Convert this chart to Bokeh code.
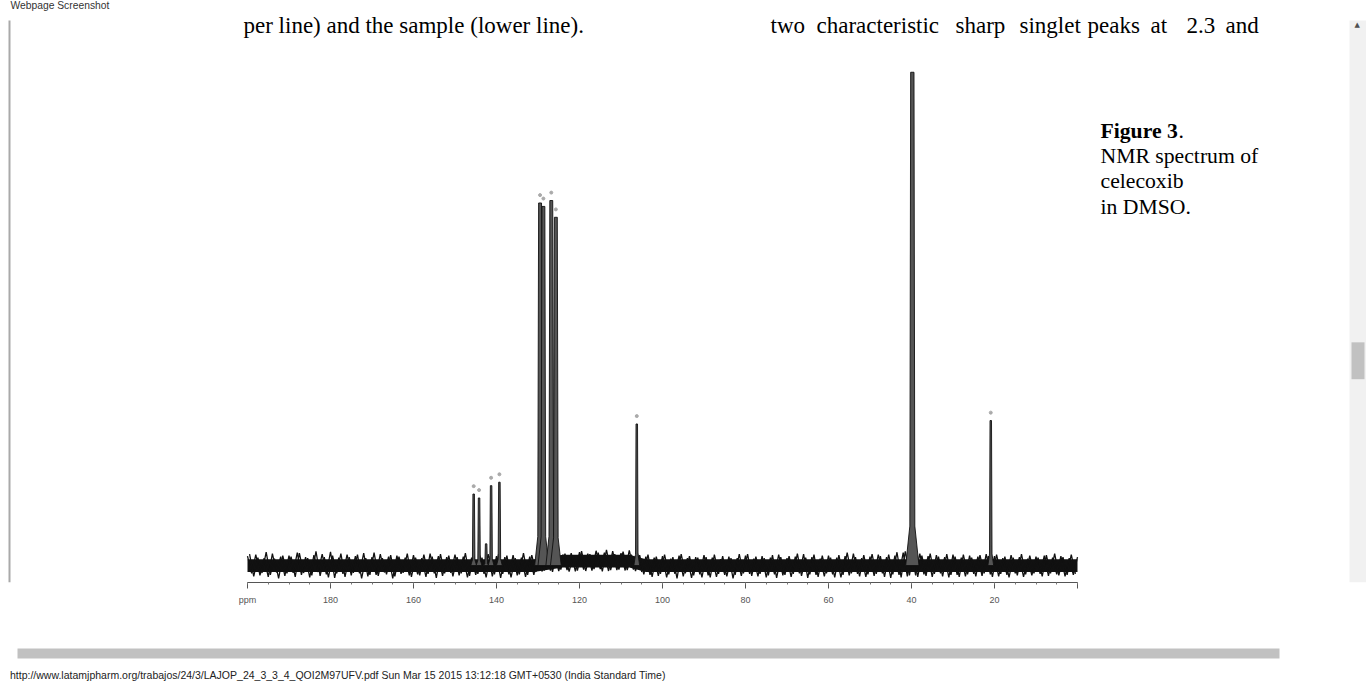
from bokeh.plotting import figure
from bokeh.models import Range1d, FixedTicker, Label, LinearAxis
from bokeh.embed import file_html
from bokeh.resources import INLINE

# ---------------- data ----------------
ppm_ticks = [0, 20, 40, 60, 80, 100, 120, 140, 160, 180, 200]
ppm_minor = list(range(0, 201, 5))
tick_label_overrides = {200: "ppm", 0: ""}

peak_ppm = [145.5, 144.2, 142.5, 141.3, 139.3, 129.5, 128.7, 126.8, 125.7, 106.2, 39.8, 20.9]
peak_int = [14.5, 13.7, 4.4, 16.2, 16.9, 73.5, 72.8, 74.0, 70.6, 28.7, 100.0, 29.4]
peak_picked = [True, True, False, True, True, True, True, True, True, True, False, True]
peak_class = ["s", "s", "s", "s", "s", "t", "t", "t", "t", "s", "v", "s"]

# baseline noise read at whole ppm values (200 ... 0)
noise_ppm = list(range(200, -1, -1))
noise_int = [
    1.9, -1.6, 2.2, -2.0, 1.5, -2.3, 2.4, -1.4, 1.8, -2.1,
    2.0, -1.5, 2.6, -1.9, 1.7, -2.4, 2.1, -1.3, 2.3, -1.8,
    2.8, -2.5, 1.6, -1.7, 2.2, -2.0, 1.9, -1.6, 2.5, -2.2,
    1.7, -1.9, 2.3, -1.4, 1.8, -2.6, 2.0, -1.7, 1.6, -2.0,
    2.1, -1.8, 1.5, -2.3, 2.4, -1.6, 1.9, -2.1, 1.7, -1.5,
    2.2, -2.0, 1.8, -2.4, 1.6, -1.9, 2.0, -1.7, 2.3, -2.2,
    1.9, -2.5, 1.7, -1.8, 2.1, -2.0, 1.6, -2.3, 1.8, -1.9,
    2.4, -1.2, 2.6, -1.0, 2.3, -1.1, 2.2, -0.9, 2.5, -1.2,
    2.7, -0.8, 2.4, -1.0, 3.0, -0.7, 2.6, -1.1, 2.9, -0.9,
    2.5, -1.0, 3.1, -0.8, 2.4, -1.3, 1.8, -1.9, 1.6, -2.1,
    1.9, -2.4, 1.4, -1.7, 2.0, -2.2, 1.5, -2.5, 1.7, -1.8,
    2.1, -2.0, 1.6, -2.3, 1.3, -1.9, 1.8, -2.6, 1.5, -2.1,
    2.0, -1.7, 1.4, -2.2, 1.9, -2.4, 1.6, -1.8, 2.2, -2.0,
    1.5, -2.3, 1.8, -1.6, 2.3, -2.5, 1.7, -1.9, 1.4, -2.2,
    2.0, -1.8, 1.6, -2.4, 1.9, -2.0, 2.4, -1.7, 1.5, -2.3,
    1.8, -2.1, 2.2, -1.6, 1.7, -2.5, 2.0, -1.9, 2.6, -2.2,
    3.0, -2.0, 2.4, -1.8, 1.9, -2.3, 2.1, -1.6, 1.7, -2.4,
    2.2, -1.9, 1.6, -2.2, 2.0, -1.7, 1.8, -2.1, 2.3, -1.8,
    1.9, -2.2, 1.5, -1.9, 2.1, -1.6, 1.7, -2.3, 1.4, -2.0,
    1.8, -1.7, 2.0, -2.1, 1.6, -1.8, 1.9, -2.2, 1.5, -1.9,
    1.7,
]
# baseline noise read at half ppm values (199.5 ... 0.5)
noise2_ppm = [199.5 - i for i in range(200)]
noise2_int = [
    2.3, -2.2, 1.6, -1.5, 2.7, -1.9, 1.4, -2.6, 2.0, -1.6,
    1.8, -2.3, 2.5, -1.5, 1.5, -2.0, 2.9, -2.1, 1.7, -2.4,
    2.0, -1.6, 2.4, -2.3, 1.7, -1.5, 2.2, -2.6, 1.5, -1.9,
    2.6, -2.1, 1.5, -1.8, 2.1, -2.2, 1.8, -1.5, 2.4, -2.3,
    1.6, -2.0, 2.2, -1.7, 1.8, -2.5, 2.3, -1.6, 2.0, -2.2,
    1.7, -1.6, 2.5, -2.1, 2.0, -1.7, 1.6, -2.4, 1.9, -1.8,
    2.3, -1.7, 2.0, -2.4, 1.5, -1.8, 2.5, -1.9, 2.1, -1.3,
    2.6, -1.0, 2.2, -1.3, 2.8, -0.8, 2.4, -1.2, 2.0, -1.0,
    2.9, -1.1, 2.3, -0.7, 2.6, -1.2, 3.2, -0.9, 2.3, -0.8,
    2.8, -0.9, 2.2, -1.1, 2.1, -1.8, 2.2, -2.3, 1.8, -1.7,
    2.2, -1.8, 1.7, -2.6, 2.3, -1.6, 1.9, -2.0, 1.6, -2.4,
    1.7, -2.4, 2.2, -1.7, 1.9, -2.2, 1.5, -1.9, 2.3, -1.6,
    2.3, -2.1, 1.8, -1.7, 1.5, -2.0, 2.1, -2.5, 1.7, -1.9,
    1.9, -1.7, 2.4, -2.1, 1.6, -1.8, 2.2, -2.3, 2.0, -1.6,
    1.6, -2.4, 2.1, -1.9, 2.6, -1.6, 1.7, -2.2, 2.1, -1.8,
    2.3, -1.7, 1.9, -2.3, 2.2, -1.8, 2.7, -2.4, 2.9, -2.0,
    2.6, -2.3, 2.0, -2.1, 2.4, -1.7, 1.8, -2.2, 2.3, -1.9,
    1.8, -2.3, 2.2, -1.8, 1.6, -2.2, 2.1, -1.6, 1.9, -2.3,
    2.2, -1.7, 1.8, -2.4, 1.6, -2.0, 2.3, -1.8, 2.0, -1.6,
    1.6, -2.2, 2.1, -1.6, 2.4, -2.0, 1.7, -1.9, 2.2, -1.7,
]
base_ppm = [200, 131, 124, 108, 104, 0]
base_level = [0.0, 0.0, 0.9, 0.9, 0.0, 0.0]

footer_text = ("http://www.latamjpharm.org/trabajos/24/3/LAJOP_24_3_3_4_QOI2M97UFV.pdf "
               "Sun Mar 15 2015 13:12:18 GMT+0530 (India Standard Time)")

# ---------------- layout calibration ----------------
W, H = 1366, 683
FB = 584                    # frame bottom = spectrum axis line (page px)
X200, X0 = 247.0, 1077.0    # page x of 200 ppm and 0 ppm
PX_PER_PPM = (X0 - X200) / 200.0
Y_BASE, PX_PER_UNIT = 567.0, 4.95

ppm_range = Range1d(200 + X200 / PX_PER_PPM, -(W - X0) / PX_PER_PPM)
int_range = Range1d(-(FB - Y_BASE) / PX_PER_UNIT, Y_BASE / PX_PER_UNIT)

p = figure(width=W, height=H, output_backend="svg", toolbar_location=None,
           x_range=Range1d(0, W), y_range=Range1d(FB, 0),
           x_axis_location=None, y_axis_location=None,
           min_border_left=0, min_border_right=0, min_border_top=0,
           min_border_bottom=H - FB,
           background_fill_color="white", border_fill_color="white")
p.extra_x_ranges = {"ppm": ppm_range}
p.extra_y_ranges = {"int": int_range}
p.outline_line_color = None
p.grid.visible = False

# spectrum axis
ax = LinearAxis(x_range_name="ppm", bounds=(0, 200),
                ticker=FixedTicker(ticks=ppm_ticks, minor_ticks=ppm_minor))
ax.major_label_overrides = tick_label_overrides
ax.axis_line_color = "#555555"
ax.major_tick_line_color = "#555555"
ax.minor_tick_line_color = "#777777"
ax.major_tick_in = 0
ax.major_tick_out = 6
ax.minor_tick_in = 0
ax.minor_tick_out = 2
ax.major_label_text_font = "Liberation Sans"
ax.major_label_text_font_size = "9px"
ax.major_label_text_color = "#555555"
ax.major_label_standoff = 6
ax.axis_label = " "
ax.axis_label_text_font_size = "20px"
ax.axis_label_standoff = 21
p.add_layout(ax, "below")

# horizontal scrollbar thumb (page chrome)
sb = LinearAxis(bounds=(17, 1279), ticker=FixedTicker(ticks=[]))
sb.axis_line_color = "#c1c1c1"
sb.axis_line_width = 10
sb.major_tick_out = 0
sb.minor_tick_out = 0
sb.major_label_standoff = 0
sb.major_label_text_font_size = "0px"
p.add_layout(sb, "below")

# browser footer line (centred label, padded with no-break spaces so it starts at x=10)
ft = LinearAxis(ticker=FixedTicker(ticks=[]))
ft.axis_line_color = None
ft.major_tick_out = 0
ft.minor_tick_out = 0
ft.major_label_standoff = 0
ft.major_label_text_font_size = "0px"
ft.axis_label = footer_text + "\u00a0" * 237
ft.axis_label_text_font = "Liberation Sans"
ft.axis_label_text_font_size = "10.5px"
ft.axis_label_text_font_style = "normal"
ft.axis_label_text_color = "#222222"
ft.axis_label_standoff = 15
p.add_layout(ft, "below")

# baseline noise: solid core + two interleaved zig-zag noise traces
core_lo = [v - 1.3 for v in base_level]
core_hi = [v + 1.3 for v in base_level]
p.varea(x=base_ppm, y1=core_lo, y2=core_hi, fill_color="#111111",
        x_range_name="ppm", y_range_name="int")
p.line(noise_ppm, noise_int, line_color="#111111", line_width=1.3,
       x_range_name="ppm", y_range_name="int")
p.line(noise2_ppm, noise2_int, line_color="#111111", line_width=1.3,
       x_range_name="ppm", y_range_name="int")

# peaks as narrow patches
widths = {"s": (0.18, 0.3, 0.7), "t": (0.35, 0.55, 1.3), "v": (0.4, 0.6, 1.6)}
xs, ys = [], []
for x0, h, c in zip(peak_ppm, peak_int, peak_class):
    wt, wm, wb = widths[c]
    xs.append([x0 - wb, x0 - wm, x0 - wt, x0 + wt, x0 + wm, x0 + wb])
    ys.append([0, h * 0.08, h, h, h * 0.08, 0])
p.patches(xs, ys, fill_color="#555555", line_color="#111111", line_width=0.9,
          x_range_name="ppm", y_range_name="int")

mk_x = [x for x, f in zip(peak_ppm, peak_picked) if f]
mk_y = [h + 1.6 for h, f in zip(peak_int, peak_picked) if f]
p.scatter(mk_x, mk_y, size=3, color="#aaaaaa", x_range_name="ppm", y_range_name="int")

# ---------------- page texts / chrome (page pixel coordinates) ----------------
def page_text(txt, X, Yc, size=23, bold=False, font="Liberation Serif", color="#000000"):
    p.add_layout(Label(x=X, y=Yc, text=txt, text_font=font, text_font_size=f"{size}px",
                       text_font_style="bold" if bold else "normal",
                       text_color=color, text_baseline="middle", text_align="left"))

page_text("Webpage Screenshot", 10, 5, size=10.3, font="Liberation Sans", color="#333333")
page_text("per line) and the sample (lower line).", 243, 25)
for word, X in [("two", 770), ("characteristic", 816), ("sharp", 955), ("singlet", 1019),
                ("peaks", 1087), ("at", 1150), ("2.3", 1186), ("and", 1225)]:
    page_text(word, X, 25)

page_text("Figure 3", 1100, 131, size=21.7, bold=True)
page_text(".", 1178, 131, size=21.7)
page_text("NMR spectrum of", 1100, 156, size=21.7)
page_text("celecoxib", 1100, 181, size=21.7)
page_text("in DMSO.", 1100, 207, size=21.7)

# left page edge and right scrollbar
p.quad(left=[8, 1349, 1351], right=[10, 1366, 1364], top=[20, 20, 343], bottom=[FB, FB, 380],
       fill_color=["#a9a9a9", "#f1f1f1", "#c1c1c1"], line_color=None)
page_text("\u25B2", 1354, 25, size=7, font="DejaVu Sans", color="#505050")

open("out.html", "w").write(file_html(p, INLINE))
